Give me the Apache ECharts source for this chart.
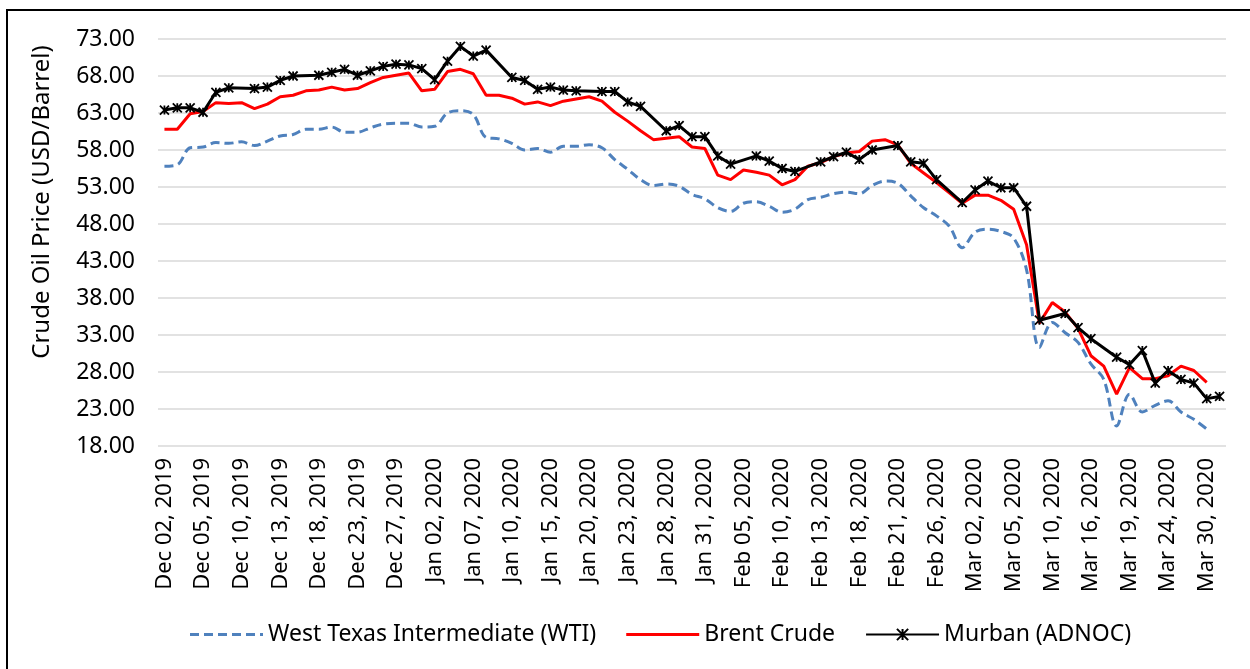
<!DOCTYPE html>
<html>
<head>
<meta charset="utf-8">
<title>Crude Oil Prices</title>
<script src="https://cdn.jsdelivr.net/npm/echarts@6/dist/echarts.min.js"></script>
<style>
  html, body { margin: 0; padding: 0; background: #fff; }
  #main { width: 1250px; height: 669px; }
</style>
</head>
<body>
<div id="main"></div>
<script>
// trading days, Dec 2019 - Mar 2020
var days = [
  'Dec 02, 2019','Dec 03, 2019','Dec 04, 2019','Dec 05, 2019','Dec 06, 2019','Dec 09, 2019','Dec 10, 2019',
  'Dec 11, 2019','Dec 12, 2019','Dec 13, 2019','Dec 16, 2019','Dec 17, 2019','Dec 18, 2019','Dec 19, 2019',
  'Dec 20, 2019','Dec 23, 2019','Dec 24, 2019','Dec 26, 2019','Dec 27, 2019','Dec 30, 2019','Dec 31, 2019',
  'Jan 02, 2020','Jan 03, 2020','Jan 06, 2020','Jan 07, 2020','Jan 08, 2020','Jan 09, 2020','Jan 10, 2020',
  'Jan 13, 2020','Jan 14, 2020','Jan 15, 2020','Jan 16, 2020','Jan 17, 2020','Jan 20, 2020','Jan 21, 2020',
  'Jan 22, 2020','Jan 23, 2020','Jan 24, 2020','Jan 27, 2020','Jan 28, 2020','Jan 29, 2020','Jan 30, 2020',
  'Jan 31, 2020','Feb 03, 2020','Feb 04, 2020','Feb 05, 2020','Feb 06, 2020','Feb 07, 2020','Feb 10, 2020',
  'Feb 11, 2020','Feb 12, 2020','Feb 13, 2020','Feb 14, 2020','Feb 17, 2020','Feb 18, 2020','Feb 19, 2020',
  'Feb 20, 2020','Feb 21, 2020','Feb 24, 2020','Feb 25, 2020','Feb 26, 2020','Feb 27, 2020','Feb 28, 2020',
  'Mar 02, 2020','Mar 03, 2020','Mar 04, 2020','Mar 05, 2020','Mar 06, 2020','Mar 09, 2020','Mar 10, 2020',
  'Mar 11, 2020','Mar 13, 2020','Mar 16, 2020','Mar 17, 2020','Mar 18, 2020','Mar 19, 2020','Mar 20, 2020',
  'Mar 23, 2020','Mar 24, 2020','Mar 25, 2020','Mar 27, 2020','Mar 30, 2020','Mar 31, 2020'
]

var wti = [
  55.8, 56.0, 58.3, 58.4, 59.0, 58.9, 59.1, 58.6, 59.2, 59.9, 60.1, 60.8, 60.8, 61.1, 60.4, 60.4, 61.0,
  61.5, 61.6, 61.6, 61.1, 61.2, 63.0, 63.3, 62.8, 59.7, 59.5, 58.9, 58.0, 58.2, 57.7, 58.5, 58.5, 58.7,
  58.3, 56.7, 55.4, 54.0, 53.2, 53.4, 53.1, 52.0, 51.4, 50.2, 49.7, 50.8, 51.0, 50.4, 49.6, 50.0, 51.3,
  51.6, 52.1, 52.3, 52.1, 53.2, 53.8, 53.5, 51.8, 50.2, 49.1, 47.7, 44.8, 46.9, 47.3, 47.0, 46.1, 41.8,
  31.3, 34.7, 33.3, 32.0, 29.1, 27.0, 20.7, 25.0, 22.6, 23.5, 24.1, 22.6, 21.6, 20.3, null
]

var brent = [
  60.8, 60.8, 62.9, 63.2, 64.4, 64.3, 64.4, 63.6, 64.2, 65.2, 65.4, 66.0, 66.1, 66.5, 66.1, 66.3, 67.1,
  67.8, 68.1, 68.4, 66.0, 66.2, 68.6, 68.9, 68.3, 65.4, 65.4, 65.0, 64.2, 64.5, 64.0, 64.6, 64.9, 65.2,
  64.6, 63.1, 61.9, 60.6, 59.4, 59.6, 59.8, 58.4, 58.2, 54.6, 54.0, 55.3, 55.0, 54.6, 53.3, 54.0, 55.8,
  56.3, 57.1, 57.6, 57.8, 59.2, 59.4, 58.7, 56.2, 54.9, 53.6, 52.2, 50.8, 51.9, 51.9, 51.2, 50.0, 45.2,
  34.6, 37.4, 36.1, 33.9, 30.2, 28.8, 25.0, 28.6, 27.1, 27.1, 27.5, 28.8, 28.2, 26.6, null
]

// Murban has no quote on some days
var murban = [
  63.4, 63.7, 63.7, 63.1, 65.8, 66.4, null, 66.3, 66.5, 67.4, 68.0, null, 68.1, 68.5, 68.9, 68.1, 68.7,
  69.3, 69.6, 69.5, 69.0, 67.5, 70.0, 72.0, 70.7, 71.5, null, 67.8, 67.4, 66.2, 66.5, 66.1, 66.0, null,
  65.9, 65.9, 64.5, 63.9, null, 60.6, 61.3, 59.8, 59.8, 57.2, 56.1, null, 57.2, 56.5, 55.5, 55.1, null,
  56.4, 57.1, 57.7, 56.7, 58.0, null, 58.6, 56.4, 56.2, 54.0, null, 50.9, 52.6, 53.8, 52.9, 52.9, 50.4,
  35.0, null, 35.9, 34.0, 32.5, null, 30.0, 29.0, 30.9, 26.5, 28.2, 27.0, 26.5, 24.4, 24.7
]

var seriesNames = ['West Texas Intermediate (WTI)', 'Brent Crude', 'Murban (ADNOC)']

var font = 'Noto Sans'
var starPath = 'path://M0,0L10,10M10,0L0,10M5,0L5,10'
// legend icons drawn as plain bars (dashed for WTI)
var dashIcon = 'path://M0,0H9V3H0Z M14,0H23V3H14Z M28,0H37V3H28Z M42,0H51V3H42Z M56,0H65V3H56Z M70,0H73V3H70Z'
var barIcon = 'path://M0,0H73V3H0Z'

var myChart = echarts.init(document.getElementById('main'))
myChart.setOption({
  animation: false,
  backgroundColor: '#fff',
  textStyle: { fontFamily: font, color: '#000' },
  graphic: [
    { // outer frame
      type: 'rect',
      shape: { x: 7, y: 10, width: 1260, height: 680 },
      style: { fill: 'none', stroke: '#000', lineWidth: 2 },
      silent: true
    },
    { // y axis title
      type: 'text',
      x: 42, y: 202,
      rotation: Math.PI / 2,
      style: {
        text: 'Crude Oil Price (USD/Barrel)',
        font: '24px "Noto Sans"',
        fill: '#000',
        align: 'center',
        verticalAlign: 'middle'
      }
    }
  ],
  grid: { left: 158, right: 24, top: 39, bottom: 223 },
  legend: {
    left: 185,
    top: 618,
    itemWidth: 73,
    itemHeight: 14,
    itemGap: 30,
    textStyle: { fontFamily: font, fontSize: 23, color: '#000' },
    data: [
      { name: seriesNames[0], icon: dashIcon },
      { name: seriesNames[1], icon: barIcon },
      { name: seriesNames[2] }
    ]
  },
  xAxis: {
    type: 'category',
    data: days,
    boundaryGap: true,
    axisLine: { show: false },
    axisTick: { show: false },
    axisLabel: {
      interval: 2,
      rotate: 90,
      margin: 12,
      fontFamily: font,
      fontSize: 22,
      color: '#000'
    }
  },
  yAxis: {
    type: 'value',
    min: 18,
    max: 73,
    interval: 5,
    axisLine: { show: false },
    axisTick: { show: false },
    axisLabel: {
      margin: 23,
      fontFamily: font,
      fontSize: 23,
      color: '#000',
      formatter: function (v) { return v.toFixed(2) }
    },
    splitLine: { lineStyle: { color: '#d9d9d9', width: 1.5 } }
  },
  series: [
    {
      name: seriesNames[0],
      type: 'line',
      data: wti,
      smooth: 0.35,
      showSymbol: false,
      lineStyle: { color: '#4f81bd', width: 3, type: [9, 5] },
      itemStyle: { color: '#4f81bd' }
    },
    {
      name: seriesNames[1],
      type: 'line',
      data: brent,
      showSymbol: false,
      lineStyle: { color: '#ff0000', width: 3 },
      itemStyle: { color: '#ff0000' }
    },
    {
      name: seriesNames[2],
      type: 'line',
      data: murban,
      connectNulls: true,
      showAllSymbol: true,
      symbol: starPath,
      symbolSize: 9,
      lineStyle: { color: '#000', width: 3 },
      itemStyle: { color: '#000', borderColor: '#000', borderWidth: 1.8 }
    }
  ]
})
</script>
</body>
</html>
